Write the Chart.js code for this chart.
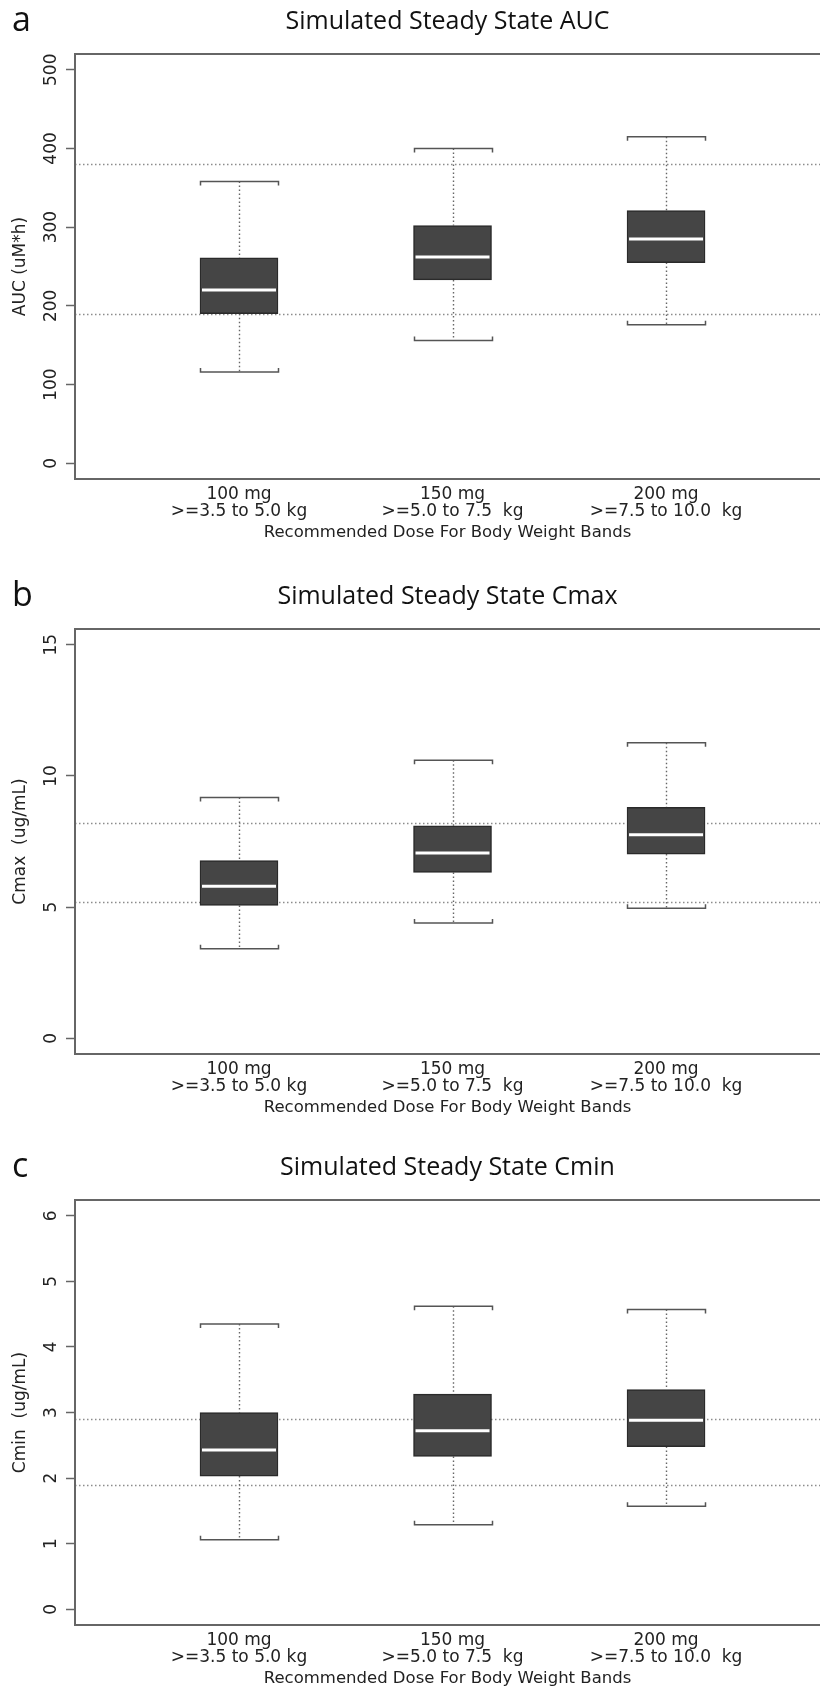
<!DOCTYPE html>
<html>
<head>
<meta charset="utf-8">
<script src="https://cdn.jsdelivr.net/npm/chart.js@4.4.1/dist/chart.umd.min.js"></script>
<style>
  html, body { margin: 0; padding: 0; background: #fff; }
  body { width: 820px; height: 1691px; overflow: hidden; position: relative; }
  .panel { position: absolute; left: 0; width: 820px; height: 560px; }
</style>
</head>
<body>
<div class="panel" style="top:0px"><canvas id="aucChart" width="820" height="560"></canvas></div>
<div class="panel" style="top:575px"><canvas id="cmaxChart" width="820" height="560"></canvas></div>
<div class="panel" style="top:1146px"><canvas id="cminChart" width="820" height="560"></canvas></div>
<script>
// Box plots of simulated steady state exposure per dose band
const doseX = [1, 2, 3];
const doseLabels = [
    ['100 mg', '>=3.5 to 5.0 kg'],
    ['150 mg', '>=5.0 to 7.5  kg'],
    ['200 mg', '>=7.5 to 10.0  kg']
];

// AUC (uM*h)
const aucLow = [116, 156, 176];
const aucQ1 = [190, 233, 255];
const aucMedian = [220, 262, 285];
const aucQ3 = [261, 302, 321];
const aucHigh = [358, 400, 415];
const aucRefLines = [190, 380];
const aucTicks = [0, 100, 200, 300, 400, 500];

// Cmax (ug/mL)
const cmaxLow = [3.41, 4.39, 4.96];
const cmaxQ1 = [5.06, 6.32, 7.02];
const cmaxMedian = [5.79, 7.06, 7.76];
const cmaxQ3 = [6.77, 8.10, 8.80];
const cmaxHigh = [9.18, 10.6, 11.26];
const cmaxRefLines = [5.2, 8.2];
const cmaxTicks = [0, 5, 10, 15];

// Cmin (ug/mL)
const cminLow = [1.06, 1.29, 1.57];
const cminQ1 = [2.03, 2.33, 2.48];
const cminMedian = [2.43, 2.72, 2.88];
const cminQ3 = [3.00, 3.28, 3.35];
const cminHigh = [4.35, 4.62, 4.57];
const cminRefLines = [1.9, 2.9];
const cminTicks = [0, 1, 2, 3, 4, 5, 6];

const rFont = 'DejaVu Sans';
const titleFont = 'Open Sans';
const frameColor = '#666';

const boxExtras = {
    id: 'boxExtras',
    beforeDatasetsDraw(chart, args, opts) {
        const { ctx, chartArea, scales: { x, y } } = chart;
        const bars = chart.getDatasetMeta(0).data;
        ctx.save();
        // dotted reference lines
        ctx.strokeStyle = '#8c8c8c';
        ctx.lineWidth = 1.3;
        ctx.setLineDash([1.5, 2.5]);
        opts.refLines.forEach((v) => {
            const py = Math.round(y.getPixelForValue(v)) + 0.5;
            ctx.beginPath();
            ctx.moveTo(chartArea.left, py);
            ctx.lineTo(chartArea.right, py);
            ctx.stroke();
        });
        // whiskers and caps
        doseX.forEach((xv, i) => {
            const px = Math.round(x.getPixelForValue(xv)) + 0.5;
            const half = bars[i].width / 2;
            const yHigh = y.getPixelForValue(opts.high[i]);
            const yLow = y.getPixelForValue(opts.low[i]);
            const yQ3 = y.getPixelForValue(opts.q3[i]);
            const yQ1 = y.getPixelForValue(opts.q1[i]);
            ctx.strokeStyle = '#666';
            ctx.lineWidth = 1.4;
            ctx.setLineDash([1.5, 2.5]);
            ctx.beginPath();
            ctx.moveTo(px, yHigh);
            ctx.lineTo(px, yQ3);
            ctx.moveTo(px, yQ1);
            ctx.lineTo(px, yLow);
            ctx.stroke();
            ctx.setLineDash([]);
            ctx.strokeStyle = '#555';
            ctx.lineWidth = 1.5;
            ctx.beginPath();
            ctx.moveTo(px - half, yHigh + 4);
            ctx.lineTo(px - half, yHigh);
            ctx.lineTo(px + half, yHigh);
            ctx.lineTo(px + half, yHigh + 4);
            ctx.moveTo(px - half, yLow - 4);
            ctx.lineTo(px - half, yLow);
            ctx.lineTo(px + half, yLow);
            ctx.lineTo(px + half, yLow - 4);
            ctx.stroke();
        });
        ctx.restore();
    },
    afterDatasetsDraw(chart, args, opts) {
        const { ctx, scales: { y } } = chart;
        const bars = chart.getDatasetMeta(0).data;
        ctx.save();
        ctx.strokeStyle = '#fff';
        ctx.lineWidth = 3;
        bars.forEach((bar, i) => {
            const py = y.getPixelForValue(opts.median[i]);
            ctx.beginPath();
            ctx.moveTo(bar.x - bar.width / 2 + 2, py);
            ctx.lineTo(bar.x + bar.width / 2 - 2, py);
            ctx.stroke();
        });
        ctx.restore();
    },
    afterDraw(chart, args, opts) {
        const { ctx, chartArea, scales: { y } } = chart;
        ctx.save();
        // plot frame (right side is cut off in the original)
        ctx.strokeStyle = frameColor;
        ctx.lineWidth = 2;
        ctx.beginPath();
        ctx.moveTo(chartArea.right, chartArea.top);
        ctx.lineTo(chartArea.left, chartArea.top);
        ctx.lineTo(chartArea.left, chartArea.bottom);
        ctx.lineTo(chartArea.right, chartArea.bottom);
        ctx.stroke();
        // rotated y tick labels
        ctx.fillStyle = '#222';
        ctx.font = '17px "' + rFont + '"';
        ctx.textAlign = 'center';
        ctx.textBaseline = 'middle';
        y.ticks.forEach((t) => {
            const py = y.getPixelForValue(t.value);
            ctx.save();
            ctx.translate(52, py);
            ctx.rotate(-Math.PI / 2);
            ctx.fillText(String(t.value), 0, 0);
            ctx.restore();
        });
        // main title and panel letter
        ctx.fillStyle = '#111';
        ctx.textBaseline = 'alphabetic';
        ctx.font = '25px "' + titleFont + '"';
        ctx.fillText(opts.title, (chartArea.left + chartArea.right) / 2, 29);
        ctx.textAlign = 'left';
        ctx.font = '34px "' + titleFont + '"';
        ctx.fillText(opts.letter, 12, 31);
        ctx.restore();
    }
};

function makePanel(canvasId, letter, title, yTitle, low, q1, median, q3, high, refLines, yTicks, yMin, yMax) {
    const ctx = document.getElementById(canvasId).getContext('2d');
    return new Chart(ctx, {
        type: 'bar',
        data: {
            datasets: [{
                data: doseX.map((xv, i) => ({ x: xv, y: [q1[i], q3[i]] })),
                backgroundColor: '#454545',
                borderColor: '#2a2a2a',
                borderWidth: 1.5,
                borderSkipped: false,
                barThickness: 78
            }]
        },
        options: {
            responsive: false,
            animation: false,
            layout: { padding: { top: 54, left: 0, right: 0, bottom: 0 } },
            plugins: {
                legend: { display: false },
                tooltip: { enabled: false },
                boxExtras: { letter, title, low, q1, median, q3, high, refLines }
            },
            scales: {
                x: {
                    type: 'linear',
                    position: 'bottom',
                    offset: false,
                    min: 0.232,
                    max: 3.721,
                    grid: { display: false, drawTicks: false, offset: false },
                    border: { display: false },
                    afterBuildTicks: (scale) => {
                        scale.ticks = doseX.map((v) => ({ value: v }));
                    },
                    afterFit: (scale) => { scale.height = 81; },
                    ticks: {
                        autoSkip: false,
                        maxRotation: 0,
                        padding: 8,
                        color: '#222',
                        font: { family: rFont, size: 17, lineHeight: 0.95 },
                        callback: (value) => doseLabels[doseX.indexOf(value)]
                    },
                    title: {
                        display: true,
                        text: 'Recommended Dose For Body Weight Bands',
                        color: '#222',
                        font: { family: rFont, size: 16.5, lineHeight: 1.0 },
                        padding: { top: 4, bottom: 19 }
                    }
                },
                y: {
                    min: yMin,
                    max: yMax,
                    afterBuildTicks: (scale) => {
                        scale.ticks = yTicks.map((v) => ({ value: v }));
                    },
                    afterFit: (scale) => { scale.width = 75; },
                    ticks: { display: false },
                    grid: {
                        drawOnChartArea: false,
                        drawTicks: true,
                        tickLength: 9,
                        tickColor: frameColor,
                        tickWidth: 1.5,
                        color: frameColor
                    },
                    border: { display: false },
                    title: {
                        display: true,
                        text: yTitle,
                        color: '#222',
                        font: { family: rFont, size: 17, lineHeight: 1.0 },
                        padding: { top: 12, bottom: 0 }
                    }
                }
            }
        },
        plugins: [boxExtras]
    });
}

makePanel('aucChart', 'a', 'Simulated Steady State AUC', 'AUC (uM*h)',
    aucLow, aucQ1, aucMedian, aucQ3, aucHigh, aucRefLines, aucTicks, -20, 520);
makePanel('cmaxChart', 'b', 'Simulated Steady State Cmax', 'Cmax  (ug/mL)',
    cmaxLow, cmaxQ1, cmaxMedian, cmaxQ3, cmaxHigh, cmaxRefLines, cmaxTicks, -0.6, 15.6);
makePanel('cminChart', 'c', 'Simulated Steady State Cmin', 'Cmin  (ug/mL)',
    cminLow, cminQ1, cminMedian, cminQ3, cminHigh, cminRefLines, cminTicks, -0.24, 6.24);
</script>
</body>
</html>
